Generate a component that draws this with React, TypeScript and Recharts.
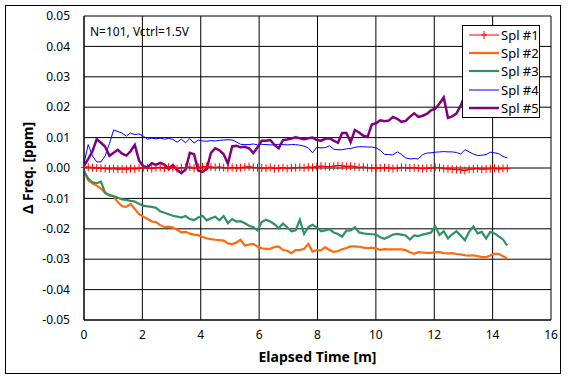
import React from 'react';
import { CartesianGrid, Label, Legend, Line, LineChart, XAxis, YAxis } from 'recharts';

// elapsed time [m], one sample every 0.145 m (N=101)
const timeMin = [
  0, 0.145, 0.29, 0.435, 0.58, 0.725, 0.87, 1.015, 1.16, 1.305,
  1.45, 1.595, 1.74, 1.885, 2.03, 2.175, 2.32, 2.465, 2.61, 2.755,
  2.9, 3.045, 3.19, 3.335, 3.48, 3.625, 3.77, 3.915, 4.06, 4.205,
  4.35, 4.495, 4.64, 4.785, 4.93, 5.075, 5.22, 5.365, 5.51, 5.655,
  5.8, 5.945, 6.09, 6.235, 6.38, 6.525, 6.67, 6.815, 6.96, 7.105,
  7.25, 7.395, 7.54, 7.685, 7.83, 7.975, 8.12, 8.265, 8.41, 8.555,
  8.7, 8.845, 8.99, 9.135, 9.28, 9.425, 9.57, 9.715, 9.86, 10.005,
  10.15, 10.295, 10.44, 10.585, 10.73, 10.875, 11.02, 11.165, 11.31, 11.455,
  11.6, 11.745, 11.89, 12.035, 12.18, 12.325, 12.47, 12.615, 12.76, 12.905,
  13.05, 13.195, 13.34, 13.485, 13.63, 13.775, 13.92, 14.065, 14.21, 14.355,
  14.5,
];

// Δ Freq. [ppm]
const spl1 = [
  0.0002, 0.0003, 0.0001, 0, -0.0001, -0.0002, -0.0003, -0.0002, -0.0004, -0.0003,
  -0.0004, -0.0002, -0.0003, -0.0001, 0.0001, 0, -0.0002, 0.0001, 0.0002, 0,
  0.0003, 0.0001, -0.0002, 0.0001, 0.0002, 0.0003, -0.0001, 0.0002, 0.0004, 0.0005,
  0.0003, 0.0002, 0.0003, 0.0001, -0.0001, 0.0002, 0, 0.0001, 0.0003, 0.0004,
  0.0002, 0.0001, 0, -0.0001, 0.0002, -0.0002, -0.0001, 0.0001, -0.0002, 0,
  0.0001, 0.0002, 0.0001, 0.0003, 0.0002, 0.0004, 0.0006, 0.0005, 0.0004, 0.0006,
  0.0008, 0.0007, 0.0005, 0.0006, 0.0004, 0.0002, 0.0003, 0.0001, 0, -0.0001,
  0, 0.0001, 0, -0.0002, -0.0001, 0.0002, 0.0001, 0, 0.0001, -0.0001,
  -0.0002, -0.0001, 0, 0.0002, 0.0001, -0.0002, -0.0003, -0.0004, -0.0005, -0.0006,
  -0.0008, -0.0004, -0.0003, -0.0002, -0.0004, -0.0003, -0.0002, -0.0001, -0.0003, -0.0002,
  -0.0002,
];

const spl2 = [
  -0.0011, -0.004, -0.005, -0.0058, -0.0068, -0.0082, -0.0088, -0.0095, -0.0112, -0.0126,
  -0.0128, -0.0118, -0.0135, -0.0152, -0.016, -0.0168, -0.0176, -0.0178, -0.0188, -0.0194,
  -0.0193, -0.0196, -0.0203, -0.0212, -0.021, -0.0216, -0.0219, -0.0221, -0.0227, -0.0231,
  -0.0234, -0.0236, -0.0237, -0.0239, -0.0248, -0.025, -0.0245, -0.0236, -0.0255, -0.0252,
  -0.025, -0.0258, -0.0264, -0.0266, -0.0266, -0.026, -0.0258, -0.027, -0.0272, -0.028,
  -0.027, -0.027, -0.0266, -0.025, -0.0275, -0.027, -0.0271, -0.026, -0.027, -0.0276,
  -0.0273, -0.0267, -0.0263, -0.0258, -0.0258, -0.0259, -0.0262, -0.0264, -0.0262, -0.0265,
  -0.0269, -0.0267, -0.0268, -0.0268, -0.0268, -0.0268, -0.027, -0.0277, -0.0282, -0.0277,
  -0.0278, -0.0279, -0.0279, -0.0277, -0.0277, -0.028, -0.0281, -0.028, -0.0283, -0.0284,
  -0.0287, -0.0288, -0.0287, -0.029, -0.0293, -0.0293, -0.0288, -0.0282, -0.0283, -0.029,
  -0.0298,
];

const spl3 = [
  -0.0011, -0.0035, -0.0047, -0.005, -0.0045, -0.0082, -0.009, -0.0092, -0.0098, -0.0103,
  -0.0105, -0.0108, -0.011, -0.0118, -0.0124, -0.0126, -0.0128, -0.0131, -0.0142, -0.0147,
  -0.0152, -0.0157, -0.016, -0.0163, -0.0158, -0.0168, -0.0171, -0.0163, -0.0157, -0.0172,
  -0.0165, -0.016, -0.0172, -0.0158, -0.0182, -0.0168, -0.0176, -0.0175, -0.0182, -0.019,
  -0.0195, -0.0205, -0.0178, -0.017, -0.0176, -0.0185, -0.0198, -0.0183, -0.0195, -0.0208,
  -0.0205, -0.017, -0.0217, -0.0195, -0.0187, -0.0195, -0.0208, -0.0205, -0.0201, -0.0212,
  -0.0217, -0.0226, -0.0206, -0.0205, -0.0195, -0.0212, -0.0215, -0.0217, -0.0218, -0.0219,
  -0.0228, -0.0233, -0.0226, -0.0219, -0.0217, -0.0219, -0.0222, -0.0235, -0.0222, -0.0224,
  -0.0219, -0.0216, -0.0212, -0.0192, -0.022, -0.0208, -0.0232, -0.0218, -0.0208, -0.0222,
  -0.0238, -0.021, -0.0192, -0.0215, -0.021, -0.0232, -0.021, -0.0215, -0.0225, -0.0235,
  -0.0255,
];

const spl4 = [
  0.0016, 0.0077, 0.004, 0.002, 0.002, 0.004, 0.008, 0.0125, 0.012, 0.0115,
  0.0105, 0.0115, 0.011, 0.0112, 0.0105, 0.0095, 0.0098, 0.0096, 0.0098, 0.0095,
  0.0097, 0.0094, 0.0085, 0.0095, 0.0083, 0.0097, 0.0082, 0.0092, 0.0089, 0.0088,
  0.009, 0.0089, 0.0091, 0.0092, 0.0093, 0.0092, 0.0086, 0.0078, 0.0077, 0.0077,
  0.0079, 0.0076, 0.0078, 0.0077, 0.0076, 0.0076, 0.0078, 0.0077, 0.0076, 0.0077,
  0.0077, 0.0075, 0.0072, 0.0066, 0.005, 0.0068, 0.0066, 0.0067, 0.0073, 0.0062,
  0.006, 0.006, 0.0063, 0.0064, 0.0068, 0.007, 0.007, 0.0069, 0.0069, 0.0067,
  0.0058, 0.0045, 0.0044, 0.0043, 0.0053, 0.0045, 0.0033, 0.003, 0.0031, 0.003,
  0.0044, 0.0049, 0.005, 0.0052, 0.0053, 0.0054, 0.0053, 0.0053, 0.0051, 0.0046,
  0.006, 0.0053, 0.0046, 0.0041, 0.0042, 0.0044, 0.0052, 0.005, 0.0047, 0.0038,
  0.0033,
];

const spl5 = [
  0.0008, 0.003, 0.0055, 0.0095, 0.0083, 0.007, 0.004, 0.005, 0.006, 0.0047,
  0.0041, 0.0055, 0.0076, 0.0025, 0.0006, 0.0002, 0.0016, 0.001, 0.0017, 0.0011,
  -0.0003, 0.001, -0.0007, -0.0017, -0.0005, 0.005, 0.0045, -0.0008, -0.0013, -0.0003,
  0.005, 0.0065, 0.0058, 0.0045, 0.0014, 0.0071, 0.0073, 0.0068, 0.007, 0.0065,
  0.0049, 0.0068, 0.009, 0.009, 0.0092, 0.0076, 0.0065, 0.0092, 0.0094, 0.0097,
  0.0101, 0.0098, 0.0095, 0.0098, 0.01, 0.0092, 0.009, 0.0096, 0.0098, 0.009,
  0.0083, 0.0115, 0.0115, 0.0085, 0.0125, 0.0117, 0.0106, 0.0102, 0.0143, 0.0147,
  0.0157, 0.0154, 0.0156, 0.0168, 0.0162, 0.0152, 0.0155, 0.0168, 0.018, 0.0168,
  0.0172, 0.0178, 0.019, 0.0195, 0.0212, 0.0232, 0.0165, 0.017, 0.0179, 0.0205,
  0.0238, 0.0225, 0.023, 0.0235, 0.0228, 0.024, 0.0235, 0.0245, 0.0238, 0.0242,
  0.025,
];

const xTicks = [0, 2, 4, 6, 8, 10, 12, 14, 16];
const yTicks = [-0.05, -0.04, -0.03, -0.02, -0.01, 0, 0.01, 0.02, 0.03, 0.04, 0.05];

const seriesNames = ['Spl #1', 'Spl #2', 'Spl #3', 'Spl #4', 'Spl #5'];

const data = timeMin.map((t, i) => ({
  t,
  spl1: spl1[i],
  spl2: spl2[i],
  spl3: spl3[i],
  spl4: spl4[i],
  spl5: spl5[i],
}));

const series = [
  { key: 'spl1', name: seriesNames[0], color: '#ff0000', width: 1, marker: true },
  { key: 'spl2', name: seriesNames[1], color: '#ff6a0e', width: 2.2, marker: false },
  { key: 'spl3', name: seriesNames[2], color: '#2f9262', width: 2.2, marker: false },
  { key: 'spl4', name: seriesNames[3], color: '#0000ff', width: 1, marker: false },
  { key: 'spl5', name: seriesNames[4], color: '#800080', width: 2.5, marker: false },
];

const font = "'Noto Sans', sans-serif";

// "+" marker used by Spl #1
const PlusDot = (props: any) => {
  const { cx, cy, index } = props;
  if (cx == null || cy == null) return null;
  return (
    <path
      key={`p-${index}`}
      d={`M${cx},${cy - 4}V${cy + 4}M${cx - 3},${cy}H${cx + 3}`}
      stroke="#ff0000"
      strokeWidth={1}
      fill="none"
    />
  );
};

const LegendBox = () => (
  <div
    style={{
      background: '#fff',
      border: '1px solid #000',
      width: 78,
      height: 93,
      boxSizing: 'border-box',
    }}
  >
    {series.map(s => (
      <div key={s.key} style={{ display: 'flex', alignItems: 'center', height: 18.2 }}>
        <svg width={30} height={10} style={{ marginLeft: 6, flex: 'none' }}>
          <line x1={0} x2={30} y1={5} y2={5} stroke={s.color} strokeWidth={s.width} />
          {s.marker && <path d="M15,1V9M12,5H18" stroke={s.color} strokeWidth={1} />}
        </svg>
        <span style={{ marginLeft: 2, fontSize: 13, color: '#000', lineHeight: '16px' }}>{s.name}</span>
      </div>
    ))}
  </div>
);

export default function App() {
  // draw order: thick series first, Spl #1 on top
  const drawOrder = [series[1], series[2], series[3], series[4], series[0]];
  return (
    <div style={{ position: 'absolute', left: 0, top: 0, width: 569, height: 380, fontFamily: font, background: '#fff' }}>
      <div
        style={{
          position: 'absolute',
          left: 5,
          top: 5,
          width: 556,
          height: 369,
          border: '1px solid #000',
          boxSizing: 'border-box',
        }}
      />
      <LineChart
        width={569}
        height={380}
        data={data}
        margin={{ top: 16, right: 18, bottom: 0, left: 0 }}
      >
        <CartesianGrid stroke="#000" strokeWidth={1} />
        <XAxis
          dataKey="t"
          type="number"
          domain={[0, 16]}
          ticks={xTicks}
          height={60}
          axisLine={{ stroke: '#000' }}
          tickLine={false}
          tickSize={6}
          tickMargin={4}
          tick={{ fill: '#000', fontSize: 12 }}
        >
          <Label
            value="Elapsed Time [m]"
            position="center"
            dy={7}
            style={{ fontSize: 14, fontWeight: 'bold', fill: '#000' }}
          />
        </XAxis>
        <YAxis
          type="number"
          domain={[-0.05, 0.05]}
          ticks={yTicks}
          width={84}
          axisLine={{ stroke: '#000' }}
          tickLine={false}
          tickSize={6}
          tickMargin={8}
          tickFormatter={(v: number) => v.toFixed(2)}
          tick={{ fill: '#000', fontSize: 12 }}
        >
          <Label
            value="Δ Freq. [ppm]"
            position="center"
            angle={-90}
            dx={-14}
            style={{ fontSize: 14, fontWeight: 'bold', fill: '#000', textAnchor: 'middle' }}
          />
        </YAxis>
        {drawOrder.map(s => (
          <Line
            key={s.key}
            type="linear"
            dataKey={s.key}
            name={s.name}
            stroke={s.color}
            strokeWidth={s.width}
            dot={s.marker ? PlusDot : false}
            activeDot={false}
            isAnimationActive={false}
          />
        ))}
        <Legend
          layout="vertical"
          align="center"
          verticalAlign="middle"
          wrapperStyle={{ left: 462, top: 25, width: 78, height: 93 }}
          content={LegendBox}
        />
      </LineChart>
      <div style={{ position: 'absolute', left: 90, top: 23, fontSize: 12, color: '#000' }}>
        N=101, Vctrl=1.5V
      </div>
    </div>
  );
}
